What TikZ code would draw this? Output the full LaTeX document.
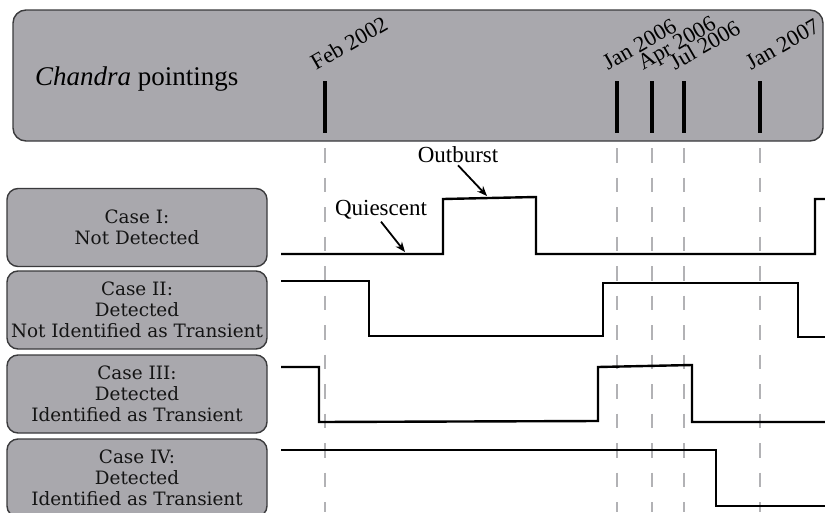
\documentclass[tikz,border=0pt]{standalone}
\usepackage{fontspec}
\setmainfont{Liberation Serif}
\newfontfamily\casefont{DejaVu Serif}
\usetikzlibrary{arrows.meta}
\definecolor{boxgray}{RGB}{169,168,173}
\definecolor{boxedge}{RGB}{58,58,60}
\definecolor{guidegray}{RGB}{178,178,181}
\definecolor{casetext}{RGB}{20,20,20}

\begin{document}
\begin{tikzpicture}[x=1pt,y=-1pt,
  casebox/.style={draw=boxedge, line width=1.4pt, fill=boxgray, rounded corners=11pt,
    minimum width=260pt, minimum height=78pt, inner sep=0pt, align=center,
    text=casetext, font=\casefont\fontsize{18.4}{21}\selectfont},
  datelabel/.style={anchor=base west, rotate=30, inner sep=0pt, font=\fontsize{22.5}{22.5}\selectfont},
  note/.style={inner sep=2pt, font=\fontsize{23}{23}\selectfont},
  guide/.style={guidegray, line width=2.2pt, dash pattern=on 14.5pt off 15pt},
  wave/.style={line width=2.4pt},
  pointer/.style={line width=1.8pt, -{Stealth[length=10pt,width=8pt]}}]
\useasboundingbox (0,0) rectangle (825,512);
\clip (0,0) rectangle (825,512);

\node[draw=boxedge, line width=1.4pt, fill=boxgray, rounded corners=13pt,
  minimum width=810pt, minimum height=131pt] (pointbox) at (418,75.5) {};
\node[anchor=base west, inner sep=0pt, font=\fontsize{27}{27}\selectfont] (title) at (35,85) {\textit{Chandra} pointings};

\foreach \x/\lab/\nm in {325/Feb 2002/feb, 617/Jan 2006/jansix, 652/Apr 2006/apr, 684/Jul 2006/jul, 760/Jan 2007/janseven}{
  \coordinate (t\nm) at (\x,81);
  \draw[line width=3.2pt] (t\nm) -- (\x,133);
  \node[datelabel] (l\nm) at (\x-9,71) {\lab};
  \draw[guide] (\x,148) -- (\x,512);
}

\node[casebox] (caseone) at (137,227.5) {Case I:\\Not Detected};
\node[casebox] (casetwo) at (137,310) {Case II:\\Detected\\Not Identified as Transient};
\node[casebox] (casethree) at (137,394) {Case III:\\Detected\\Identified as Transient};
\node[casebox] (casefour) at (137,478) {Case IV:\\Detected\\Identified as Transient};

\draw[wave] (281,254) -- (443,254) -- (443,199) -- (536,197) -- (536,254) -- (815,254) -- (815,199) -- (830,199);
\draw[wave] (281,281) -- (369,281) -- (369,336) -- (603,336) -- (603,283) -- (798,283) -- (798,337) -- (830,337);
\draw[wave] (281,367) -- (319,367) -- (319,422) -- (598,421) -- (598,367) -- (692,365) -- (692,422) -- (830,422);
\draw[wave] (281,450) -- (716,450) -- (716,506) -- (830,506);

\node[note] (quiet) at (381,210) {Quiescent};
\node[note] (burst) at (458,155) {Outburst};
\coordinate (quiettip) at (405,252);
\coordinate (bursttip) at (487,196);
\draw[pointer] (quiet.south) -- (quiettip);
\draw[pointer] (burst.south) -- (bursttip);
\end{tikzpicture}
\end{document}
